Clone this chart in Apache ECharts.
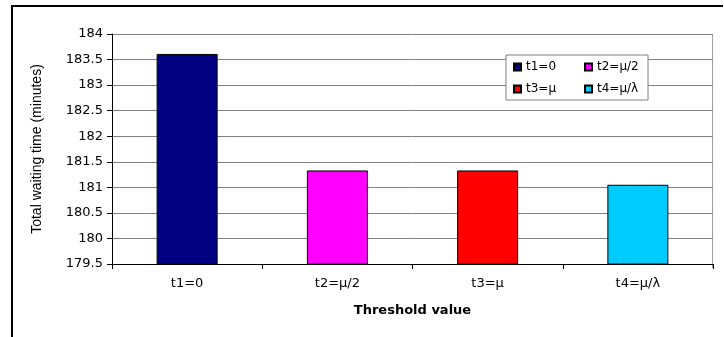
<!DOCTYPE html>
<html>
<head>
<meta charset="utf-8">
<script src="https://cdn.jsdelivr.net/npm/echarts@6/dist/echarts.min.js"></script>
<style>
  html, body { margin: 0; padding: 0; background: #fff; }
  #chart { width: 724px; height: 337px; }
</style>
</head>
<body>
<div id="chart"></div>
<script>
// Threshold settings on the category axis
const categories = ['t1=0', 't2=μ/2', 't3=μ', 't4=μ/λ'];
// Total waiting time (minutes) for each threshold
const waitingTimes = [183.61, 181.33, 181.33, 181.05];
const barColors = ['#000080', '#FF00FF', '#FF0000', '#00CCFF'];
const yTicks = { min: 179.5, max: 184, step: 0.5 };
// Legend columns: left column and right column entries
const legendLeftCol = [categories[0], categories[2]];
const legendRightCol = [categories[1], categories[3]];

const chart = echarts.init(document.getElementById('chart'), null, { renderer: 'canvas' });

// One series per threshold so each gets its own legend entry;
// barGap -100% keeps every bar centred in its own category slot.
const series = categories.map((name, i) => ({
  name: name,
  type: 'bar',
  barGap: '-100%',
  barWidth: 61,
  data: categories.map((c, j) => (j === i ? waitingTimes[i] : '-')),
  itemStyle: { color: barColors[i], borderColor: '#000', borderWidth: 1 },
  emphasis: { disabled: true }
}));

const legendText = { fontFamily: 'DejaVu Sans', fontSize: 12, color: '#000' };

chart.setOption({
  animation: false,
  textStyle: { fontFamily: 'DejaVu Sans' },
  grid: { left: 112, right: 11, top: 34, bottom: 73, containLabel: false },
  legend: [
    {
      // left column; its padded box forms the frame around both columns
      orient: 'vertical',
      left: 506, top: 55,
      padding: [6, 92, 5, 7],
      itemGap: 10,
      itemWidth: 7, itemHeight: 7,
      backgroundColor: '#fff',
      borderColor: '#808080', borderWidth: 1,
      icon: 'rect',
      textStyle: legendText,
      data: legendLeftCol,
      z: 5
    },
    {
      orient: 'vertical',
      left: 584, top: 55,
      padding: [6, 0, 5, 0],
      itemGap: 10,
      itemWidth: 7, itemHeight: 7,
      icon: 'rect',
      textStyle: legendText,
      data: legendRightCol,
      z: 6
    }
  ],
  xAxis: {
    type: 'category',
    data: categories,
    boundaryGap: true,
    name: 'Threshold value',
    nameLocation: 'middle',
    nameGap: 40,
    nameTextStyle: { fontFamily: 'DejaVu Sans', fontWeight: 'bold', fontSize: 13, color: '#000' },
    axisLine: { lineStyle: { color: '#000', width: 1 } },
    axisTick: { show: true, length: 5, lineStyle: { color: '#000' } },
    axisLabel: { fontFamily: 'DejaVu Sans', fontSize: 13, color: '#000', margin: 13 },
    splitLine: { show: false }
  },
  yAxis: {
    type: 'value',
    min: yTicks.min, max: yTicks.max, interval: yTicks.step,
    name: 'Total waiting time (minutes)',
    nameLocation: 'middle',
    nameGap: 68,
    nameTextStyle: { fontFamily: 'Liberation Sans', fontSize: 14, color: '#000' },
    axisLine: { show: true, lineStyle: { color: '#000', width: 1 } },
    axisTick: { show: true, length: 5, lineStyle: { color: '#000' } },
    axisLabel: { fontFamily: 'DejaVu Sans', fontSize: 13, color: '#000', margin: 9 },
    splitLine: { show: true, lineStyle: { color: '#808080', width: 1 } }
  },
  graphic: [
    // right edge of the plot area
    { type: 'line', shape: { x1: 712.5, y1: 34, x2: 712.5, y2: 268 }, style: { stroke: '#a0a0a0', lineWidth: 1 }, silent: true },
    // outer frame (top and left)
    { type: 'line', shape: { x1: 11, y1: 6, x2: 723, y2: 6 }, style: { stroke: '#000', lineWidth: 2 }, silent: true },
    { type: 'line', shape: { x1: 12, y1: 5, x2: 12, y2: 337 }, style: { stroke: '#000', lineWidth: 2 }, silent: true }
  ],
  series: series
});
</script>
</body>
</html>
